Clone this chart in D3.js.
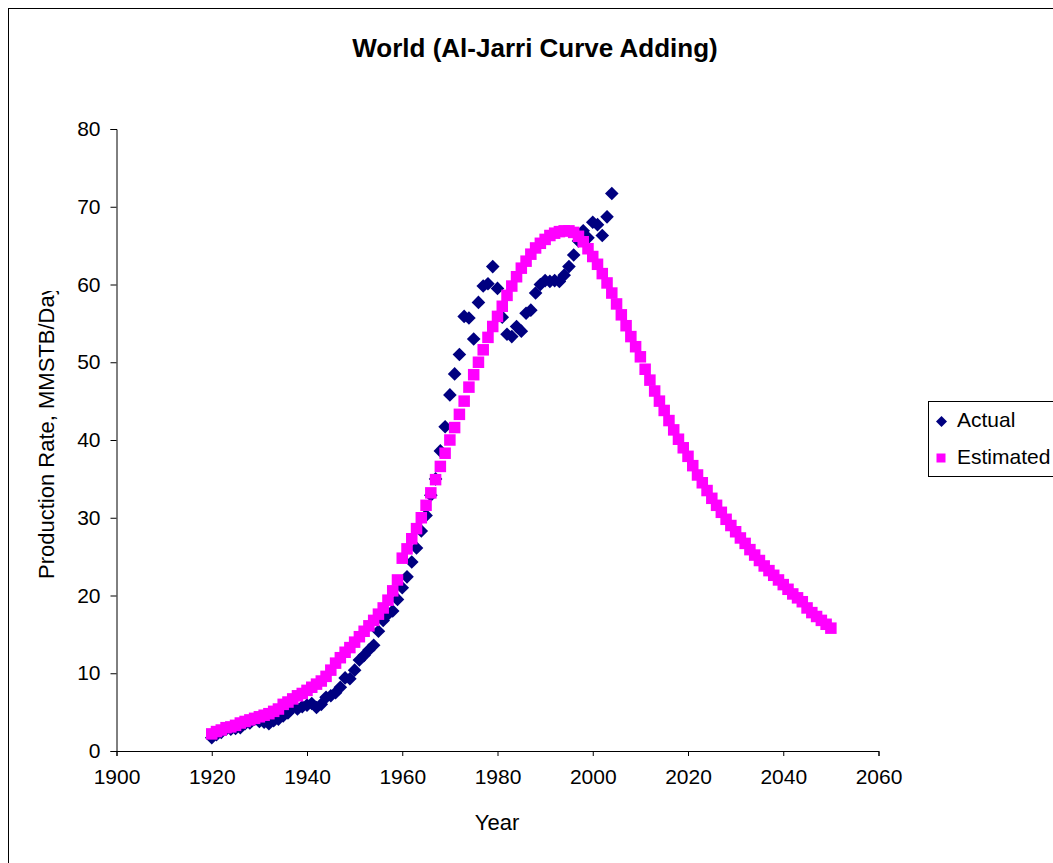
<!DOCTYPE html>
<html>
<head>
<meta charset="utf-8">
<script src="https://cdn.jsdelivr.net/npm/d3@7"></script>
<style>
  html, body { margin: 0; padding: 0; background: #fff; }
  svg { display: block; }
  text { font-family: "Liberation Sans", Arial, sans-serif; fill: #000; }
</style>
</head>
<body>
<svg id="chart" width="1053" height="863"></svg>
<script>
// World oil production: observed rates and the Al-Jarri fitted curve
const actualYears = d3.range(1920, 2005);
const actualValues = [
  1.7, 2.1, 2.4, 2.8, 2.8, 2.9, 3.0, 3.5, 3.6, 4.1,      // 1920s
  3.8, 3.7, 3.5, 3.9, 4.1, 4.5, 4.9, 5.6, 5.4, 5.7,      // 1930s
  5.9, 6.1, 5.6, 6.0, 6.9, 7.1, 7.5, 8.2, 9.4, 9.3,      // 1940s
  10.4, 11.7, 12.3, 13.0, 13.6, 15.4, 16.8, 17.6, 18.0, 19.5, // 1950s
  21.0, 22.4, 24.3, 26.1, 28.3, 30.3, 32.9, 35.0, 38.6, 41.7, // 1960s
  45.8, 48.5, 51.0, 55.9, 55.7, 53.0, 57.7, 59.8, 60.1, 62.3, // 1970s
  59.5, 55.8, 53.6, 53.3, 54.6, 54.0, 56.3, 56.7, 58.9, 60.0, // 1980s
  60.5, 60.4, 60.5, 60.4, 61.2, 62.3, 63.8, 65.6, 66.9, 66.0, // 1990s
  68.0, 67.7, 66.3, 68.7, 71.7                                // 2000-2004
];

const estimatedYears = d3.range(1920, 2051);
const estimatedValues = [
  2.2, 2.5, 2.7, 3.0, 3.1, 3.3, 3.6, 3.8, 4.0, 4.2,      // 1920s
  4.4, 4.6, 4.8, 5.1, 5.4, 6.0, 6.3, 6.7, 7.1, 7.4,      // 1930s
  7.8, 8.2, 8.6, 9.0, 9.6, 10.4, 11.3, 12.0, 12.7, 13.3, // 1940s
  14.0, 14.7, 15.4, 16.1, 16.8, 17.6, 18.4, 19.4, 20.6, 22.0, // 1950s
  24.8, 26.0, 27.3, 28.6, 30.0, 31.6, 33.2, 34.9, 36.6, 38.3, // 1960s
  40.0, 41.6, 43.3, 45.0, 46.8, 48.4, 50.0, 51.6, 53.2, 54.6, // 1970s
  55.9, 57.2, 58.6, 59.8, 61.0, 62.1, 63.0, 63.9, 64.7, 65.3, // 1980s
  65.8, 66.3, 66.6, 66.8, 66.9, 66.9, 66.7, 66.2, 65.5, 64.6, // 1990s
  63.6, 62.6, 61.4, 60.2, 58.9, 57.5, 56.1, 54.7, 53.3, 52.0, // 2000s
  50.7, 49.1, 47.7, 46.3, 45.0, 43.8, 42.5, 41.3, 40.1, 39.0, // 2010s
  37.9, 36.7, 35.5, 34.5, 33.5, 32.5, 31.6, 30.7, 29.8, 29.0, // 2020s
  28.2, 27.4, 26.7, 25.9, 25.2, 24.5, 23.8, 23.2, 22.6, 22.0, // 2030s
  21.4, 20.8, 20.2, 19.7, 19.2, 18.4, 17.8, 17.3, 16.8, 16.3, // 2040s
  15.8                                                        // 2050
];

const xTicks = [1900, 1920, 1940, 1960, 1980, 2000, 2020, 2040, 2060];
const yTicks = [0, 10, 20, 30, 40, 50, 60, 70, 80];

const chartTitle = "World (Al-Jarri Curve Adding)";
const xTitle = "Year";
const yTitle = "Production Rate, MMSTB/Day";
const seriesNames = ["Actual", "Estimated"];
const seriesColors = ["#000080", "#FF00FF"];

const actual = actualYears.map((y, i) => ({ year: y, value: actualValues[i] }));
const estimated = estimatedYears.map((y, i) => ({ year: y, value: estimatedValues[i] }));

const svg = d3.select("#chart");

// Chart area frame
svg.append("rect")
  .attr("x", 8.5).attr("y", 8.5)
  .attr("width", 1100).attr("height", 900)
  .attr("fill", "#fff").attr("stroke", "#000").attr("stroke-width", 1);

const x = d3.scaleLinear().domain([1900, 2060]).range([116.5, 878.5]);
const y = d3.scaleLinear().domain([0, 80]).range([751, 129]);

// Title
svg.append("text")
  .attr("x", 535).attr("y", 57)
  .attr("text-anchor", "middle")
  .style("font-size", "26px").style("font-weight", "bold")
  .text(chartTitle);

// Axes
const xAxis = svg.append("g")
  .attr("transform", "translate(0,751)")
  .call(d3.axisBottom(x).tickValues(xTicks).tickFormat(d3.format("d")).tickSize(5).tickPadding(13));
const yAxis = svg.append("g")
  .attr("transform", "translate(116.5,0)")
  .call(d3.axisLeft(y).tickValues(yTicks).tickFormat(d3.format("d")).tickSize(6).tickPadding(10));

[xAxis, yAxis].forEach(g => {
  g.select(".domain").attr("stroke", "#000").attr("stroke-width", 1);
  g.selectAll(".tick line").attr("stroke", "#000");
  g.selectAll(".tick text")
    .style("font-size", "21px")
    .style("font-family", "'Liberation Sans', Arial, sans-serif")
    .attr("fill", "#000");
});

// Axis titles
svg.append("text")
  .attr("x", 497).attr("y", 830)
  .attr("text-anchor", "middle")
  .style("font-size", "22px")
  .text(xTitle);

svg.append("clipPath").attr("id", "ytitle-clip")
  .append("rect").attr("x", 0).attr("y", 291).attr("width", 100).attr("height", 400);

svg.append("g").attr("clip-path", "url(#ytitle-clip)")
  .append("text")
  .attr("transform", "translate(54,579) rotate(-90)")
  .attr("text-anchor", "start")
  .style("font-size", "22px")
  .text(yTitle);

// Marker shapes
const diamond = (cx, cy, r) =>
  `M${cx},${cy - r}L${cx + r},${cy}L${cx},${cy + r}L${cx - r},${cy}Z`;

// Actual series: navy diamonds
svg.append("g").selectAll("path")
  .data(actual)
  .join("path")
  .attr("d", d => diamond(x(d.year), y(d.value), 6.8))
  .attr("fill", seriesColors[0]);

// Estimated series: magenta squares
const sq = 11.5;
svg.append("g").selectAll("rect")
  .data(estimated)
  .join("rect")
  .attr("x", d => x(d.year) - sq / 2)
  .attr("y", d => y(d.value) - sq / 2)
  .attr("width", sq).attr("height", sq)
  .attr("fill", seriesColors[1]);

// Legend
const legend = svg.append("g");
legend.append("rect")
  .attr("x", 928.5).attr("y", 401.5)
  .attr("width", 200).attr("height", 75)
  .attr("fill", "#fff").attr("stroke", "#000").attr("stroke-width", 1);

legend.append("path")
  .attr("d", diamond(941.5, 421.5, 5.5))
  .attr("fill", seriesColors[0]);
legend.append("rect")
  .attr("x", 936.5).attr("y", 453.5).attr("width", 9).attr("height", 9)
  .attr("fill", seriesColors[1]);

legend.selectAll("text")
  .data(seriesNames)
  .join("text")
  .attr("x", 957)
  .attr("y", (d, i) => 427 + i * 36.5)
  .style("font-size", "21px")
  .text(d => d);
</script>
</body>
</html>
